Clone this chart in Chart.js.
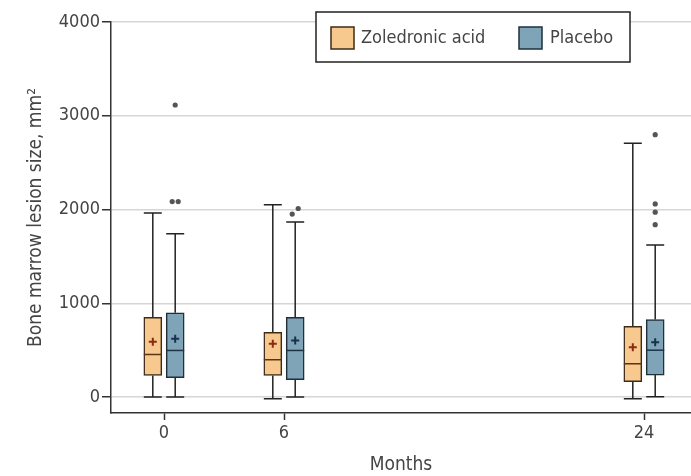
<!DOCTYPE html>
<html>
<head>
<meta charset="utf-8">
<script src="https://cdn.jsdelivr.net/npm/chart.js@4.4.0/dist/chart.umd.min.js"></script>
<style>
    html, body { margin: 0; padding: 0; background: #fff; }
</style>
</head>
<body>
<canvas id="chart" width="691" height="476"></canvas>
<script>
const months = [0, 6, 24];
const xTicks = [0, 6, 24];
const yTicks = [0, 1000, 2000, 3000, 4000];
const seriesLabels = ["Zoledronic acid", "Placebo"];

// [lower whisker, q1, median, q3, upper whisker]
const zolBoxes = [
    [0, 231, 454, 851, 1962],
    [-17, 231, 398, 691, 2050],
    [-17, 164, 355, 755, 2706]
];
const zolMeans = [589, 568, 532];
const zolOutliers = [[], [], []];

const plaBoxes = [
    [0, 206, 497, 898, 1741],
    [0, 185, 497, 851, 1866],
    [4, 234, 500, 827, 1621]
];
const plaMeans = [621, 603, 585];
const plaOutliers = [[3115, 2085, 2085], [1952, 2011], [2798, 2060, 1972, 1838]];

const FONT = "'DejaVu Sans Condensed', 'DejaVu Sans', sans-serif";
const TEXT = "#444";
const OFFSET = 0.56;   // months between group centre and each box

const groups = [
    {label: seriesLabels[0], boxes: zolBoxes, means: zolMeans, outliers: zolOutliers, shift: -OFFSET,
     fill: "#f8c98f", border: "#3d2b1a", median: "#5a3414", mean: "#8a2c10"},
    {label: seriesLabels[1], boxes: plaBoxes, means: plaMeans, outliers: plaOutliers, shift: OFFSET,
     fill: "#7fa4b8", border: "#1f2f3a", median: "#1c3445", mean: "#16324f"}
];

function outlierPoints(g) {
    const pts = [];
    g.outliers.forEach((vals, i) => {
        const sorted = [...vals].sort((a, b) => a - b);
        sorted.forEach((v, k) => {
            let dodge = 0;
            // values that nearly coincide are set side by side
            if (k > 0 && Math.abs(v - sorted[k - 1]) < 70) dodge = 0.15;
            else if (k < sorted.length - 1 && Math.abs(sorted[k + 1] - v) < 70) dodge = -0.15;
            pts.push({x: months[i] + g.shift + dodge, y: v});
        });
    });
    return pts;
}

const datasets = [];
groups.forEach((g, gi) => {
    datasets.push({
        type: "bar",
        label: g.label,
        data: g.boxes.map((b, i) => ({x: months[i] + g.shift, y: [b[1], b[3]]})),
        backgroundColor: g.fill,
        borderColor: g.border,
        borderWidth: 1.5,
        borderSkipped: false,
        barThickness: 18,
        grouped: false,
        order: 3
    });
});
groups.forEach(g => {
    datasets.push({
        type: "scatter",
        label: g.label + " mean",
        data: g.means.map((m, i) => ({x: months[i] + g.shift, y: m})),
        pointStyle: "cross",
        radius: 4,
        borderWidth: 2,
        borderColor: g.mean,
        order: 0
    });
    datasets.push({
        type: "scatter",
        label: g.label + " outliers",
        data: outlierPoints(g),
        pointStyle: "circle",
        radius: 2.6,
        borderWidth: 0,
        backgroundColor: "#555",
        order: 1
    });
});

const boxPlugin = {
    id: "boxParts",
    beforeDatasetsDraw(chart) {
        const ctx = chart.ctx, y = chart.scales.y;
        ctx.save();
        ctx.strokeStyle = "#222";
        ctx.lineWidth = 1.5;
        groups.forEach((g, gi) => {
            const meta = chart.getDatasetMeta(gi);
            g.boxes.forEach((b, i) => {
                const {x, width} = meta.data[i].getProps(["x", "width"], true);
                const lo = y.getPixelForValue(b[0]), q1 = y.getPixelForValue(b[1]);
                const q3 = y.getPixelForValue(b[3]), hi = y.getPixelForValue(b[4]);
                ctx.beginPath();
                ctx.moveTo(x, q1); ctx.lineTo(x, lo);
                ctx.moveTo(x - width / 2, lo); ctx.lineTo(x + width / 2, lo);
                ctx.moveTo(x, q3); ctx.lineTo(x, hi);
                ctx.moveTo(x - width / 2, hi); ctx.lineTo(x + width / 2, hi);
                ctx.stroke();
            });
        });
        ctx.restore();
    },
    afterDatasetsDraw(chart) {
        const ctx = chart.ctx, y = chart.scales.y;
        ctx.save();
        ctx.lineWidth = 1.5;
        groups.forEach((g, gi) => {
            const meta = chart.getDatasetMeta(gi);
            ctx.strokeStyle = g.median;
            g.boxes.forEach((b, i) => {
                const {x, width} = meta.data[i].getProps(["x", "width"], true);
                const med = y.getPixelForValue(b[2]);
                ctx.beginPath();
                ctx.moveTo(x - width / 2, med); ctx.lineTo(x + width / 2, med);
                ctx.stroke();
            });
        });
        ctx.restore();
    }
};

const legendPlugin = {
    id: "boxLegend",
    afterDraw(chart) {
        const ctx = chart.ctx;
        const left = 316, top = 12, w = 314, h = 50;
        ctx.save();
        ctx.fillStyle = "#fff";
        ctx.fillRect(left, top, w, h);
        ctx.strokeStyle = "#222";
        ctx.lineWidth = 1.5;
        ctx.strokeRect(left, top, w, h);
        const items = [{x: 331, tx: 361}, {x: 519, tx: 550}];
        ctx.font = "18px " + FONT;
        ctx.textBaseline = "middle";
        groups.forEach((g, gi) => {
            const it = items[gi];
            ctx.fillStyle = g.fill;
            ctx.fillRect(it.x, 27, 23, 22);
            ctx.strokeStyle = g.border;
            ctx.strokeRect(it.x, 27, 23, 22);
            ctx.fillStyle = TEXT;
            ctx.fillText(g.label, it.tx, 38);
        });
        ctx.restore();
    }
};

new Chart(document.getElementById("chart"), {
    data: {datasets: datasets},
    options: {
        responsive: false,
        animation: false,
        devicePixelRatio: 1,
        layout: {autoPadding: false, padding: {top: 22, right: 0, bottom: 0, left: 0}},
        plugins: {legend: {display: false}, tooltip: {enabled: false}},
        scales: {
            x: {
                type: "linear",
                offset: false,
                min: -2.65,
                max: 26.35,
                afterBuildTicks: s => { s.ticks = xTicks.map(v => ({value: v})); },
                afterFit: s => { s.height = 63; },
                ticks: {font: {family: FONT, size: 18}, color: TEXT, padding: 3, maxRotation: 0, autoSkip: false,
                        callback: v => String(v)},
                grid: {offset: false, drawOnChartArea: false, tickLength: 7, tickColor: "#333", tickWidth: 1.5},
                border: {color: "#333", width: 1.5},
                title: {display: true, text: "Months", font: {family: FONT, size: 19}, color: TEXT, padding: {top: 0, bottom: 0}}
            },
            y: {
                type: "linear",
                min: -170,
                max: 4000,
                afterBuildTicks: s => { s.ticks = yTicks.map(v => ({value: v})); },
                afterFit: s => { s.width = 111; },
                ticks: {font: {family: FONT, size: 18}, color: TEXT, padding: 2, callback: v => String(v)},
                grid: {color: "#d6d6d6", lineWidth: 1.5, tickLength: 9, tickColor: "#333", tickWidth: 1.5},
                border: {color: "#333", width: 1.5},
                title: {display: true, text: "Bone marrow lesion size, mm²", font: {family: FONT, size: 19}, color: TEXT, padding: {top: 25, bottom: 0}}
            }
        }
    },
    plugins: [boxPlugin, legendPlugin]
});
</script>
</body>
</html>
